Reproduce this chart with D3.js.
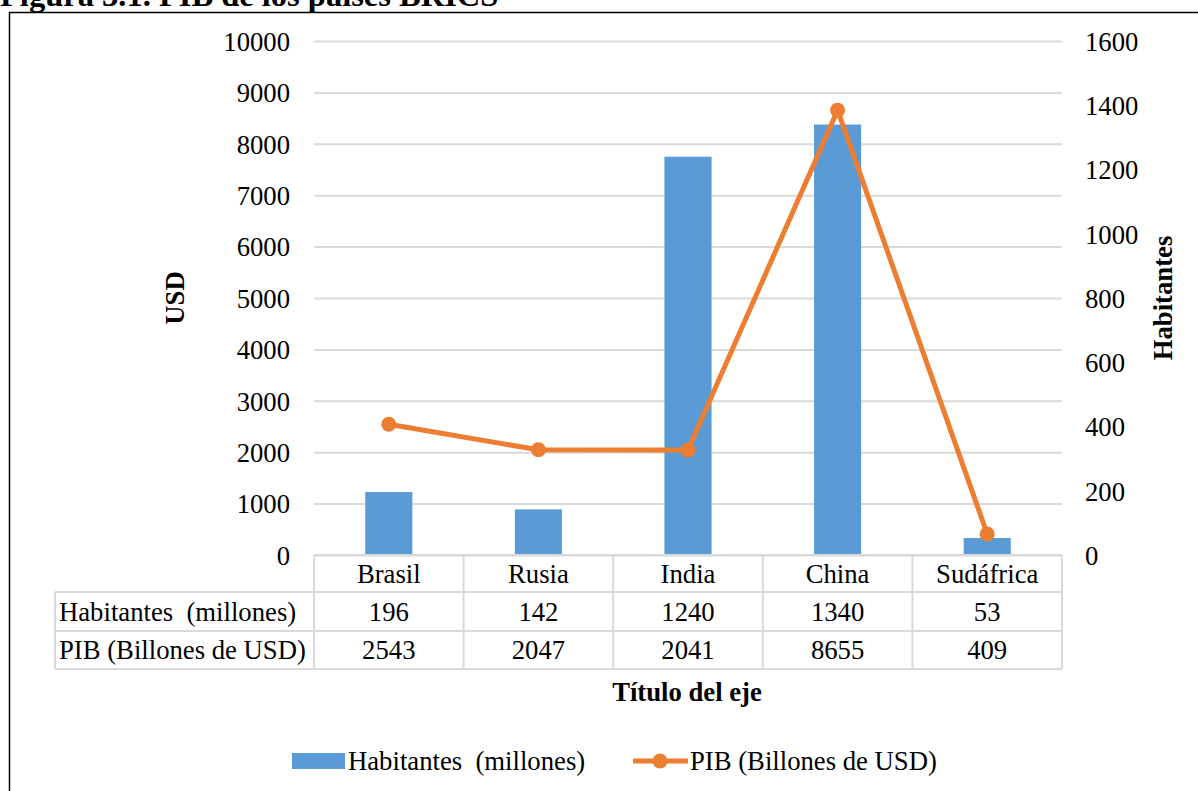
<!DOCTYPE html>
<html><head><meta charset="utf-8">
<script src="https://cdn.jsdelivr.net/npm/d3@7"></script>
<style>
html,body{margin:0;padding:0;background:#fff;overflow:hidden}
text{font-family:"Liberation Serif","Times New Roman",serif;fill:#000}
</style></head>
<body>
<svg id="c" width="1198" height="791"></svg>
<script>
const categories = ["Brasil","Rusia","India","China","Sudáfrica"];
const habitantes = [196,142,1240,1340,53];
const pib = [2543,2047,2041,8655,409];
const leftTicks = [0,1000,2000,3000,4000,5000,6000,7000,8000,9000,10000];
const rightTicks = [0,200,400,600,800,1000,1200,1400,1600];
const seriesNames = ["Habitantes  (millones)","PIB (Billones de USD)"];
const title = "Figura 3.1. PIB de los países BRICS";

const svg = d3.select("#c");
const FS = 26.7;
const L = 314, R = 1062, T = 41, B = 555;
const blue = "#5B9BD5", orange = "#ED7D31", grid = "#D9D9D9";

const x = d3.scaleBand().domain(categories).range([L, R]);
const yL = d3.scaleLinear().domain([0, 10000]).range([B, T]);
const yR = d3.scaleLinear().domain([0, 1600]).range([B, T]);

// frame
svg.append("path").attr("d","M9.5,800 L9.5,12.5 L1210,12.5").attr("fill","none").attr("stroke","#000").attr("stroke-width",1.5);

// title
svg.append("text").attr("x",0).attr("y",6).attr("font-size",32.5).attr("font-weight","bold").text(title);

// gridlines
const gAxis = svg.append("g").attr("transform",`translate(${L},0)`)
  .call(d3.axisRight(yL).tickValues(leftTicks).tickSize(R-L).tickFormat(""));
gAxis.select(".domain").remove();
gAxis.selectAll("line").attr("stroke",grid).attr("stroke-width",2);

// left axis labels
const la = svg.append("g").attr("transform",`translate(290,0)`)
  .call(d3.axisLeft(yL).tickValues(leftTicks).tickSize(0).tickPadding(0).tickFormat(d3.format("d")));
la.select(".domain").remove();
la.selectAll("text").attr("font-size",FS).attr("font-family","Liberation Serif").attr("fill","#000").attr("dy","0.35em");

// right axis labels
const ra = svg.append("g").attr("transform",`translate(1085,0)`)
  .call(d3.axisRight(yR).tickValues(rightTicks).tickSize(0).tickPadding(0).tickFormat(d3.format("d")));
ra.select(".domain").remove();
ra.selectAll("text").attr("font-size",FS).attr("font-family","Liberation Serif").attr("fill","#000").attr("dy","0.35em");

// bars
const bw = x.bandwidth()*0.315;
svg.append("g").selectAll("rect").data(categories).join("rect")
  .attr("x", d => x(d) + x.bandwidth()/2 - bw/2)
  .attr("y", (d,i) => yR(habitantes[i]))
  .attr("width", bw)
  .attr("height", (d,i) => B - yR(habitantes[i]))
  .attr("fill", blue);

// line
const line = d3.line().x((d,i) => x(categories[i]) + x.bandwidth()/2).y(d => yL(d));
svg.append("path").datum(pib).attr("d", line).attr("fill","none").attr("stroke",orange).attr("stroke-width",5).attr("stroke-linejoin","round");
svg.append("g").selectAll("circle").data(pib).join("circle")
  .attr("cx",(d,i) => x(categories[i]) + x.bandwidth()/2)
  .attr("cy", d => yL(d)).attr("r",7.5).attr("fill",orange);

// data table
const rows = [B, 592, 631, 669];
const TL = 55;
const tg = svg.append("g").attr("stroke",grid).attr("stroke-width",2);
tg.append("line").attr("x1",L).attr("x2",R).attr("y1",rows[0]).attr("y2",rows[0]);
for (let r = 1; r < rows.length; r++) tg.append("line").attr("x1",TL).attr("x2",R).attr("y1",rows[r]).attr("y2",rows[r]);
tg.append("line").attr("x1",TL).attr("x2",TL).attr("y1",rows[1]).attr("y2",rows[3]);
const bounds = categories.map(c => x(c)).concat([R]);
bounds.forEach(b => tg.append("line").attr("x1",b).attr("x2",b).attr("y1",rows[0]).attr("y2",rows[3]));

const cy = r => (rows[r] + rows[r+1]) / 2;
svg.append("g").selectAll("text").data(categories).join("text")
  .attr("x", d => x(d) + x.bandwidth()/2).attr("y", cy(0)).attr("dy","0.35em")
  .attr("text-anchor","middle").attr("font-size",FS).text(d => d);
[habitantes, pib].forEach((arr, r) => {
  svg.append("text").attr("x",59).attr("y",cy(r+1)).attr("dy","0.35em").attr("font-size",FS)
    .style("white-space","pre").text(seriesNames[r]);
  svg.append("g").selectAll("text").data(arr).join("text")
    .attr("x",(d,i) => x(categories[i]) + x.bandwidth()/2).attr("y", cy(r+1)).attr("dy","0.35em")
    .attr("text-anchor","middle").attr("font-size",FS).text(d => d);
});

// axis titles
svg.append("text").attr("transform","translate(184,298) rotate(-90)").attr("text-anchor","middle")
  .attr("font-size",FS).attr("font-weight","bold").text("USD");
svg.append("text").attr("transform","translate(1172,298) rotate(-90)").attr("text-anchor","middle")
  .attr("font-size",FS).attr("font-weight","bold").text("Habitantes");
svg.append("text").attr("x",687).attr("y",692).attr("dy","0.35em").attr("text-anchor","middle")
  .attr("font-size",FS).attr("font-weight","bold").text("Título del eje");

// legend
const lg = svg.append("g");
lg.append("rect").attr("x",292).attr("y",753).attr("width",53).attr("height",16).attr("fill",blue);
lg.append("text").attr("x",348).attr("y",761).attr("dy","0.35em").attr("font-size",FS)
  .style("white-space","pre").text(seriesNames[0]);
lg.append("line").attr("x1",633).attr("x2",688).attr("y1",761).attr("y2",761).attr("stroke",orange).attr("stroke-width",5);
lg.append("circle").attr("cx",660).attr("cy",761).attr("r",7.5).attr("fill",orange);
lg.append("text").attr("x",690).attr("y",761).attr("dy","0.35em").attr("font-size",FS).text(seriesNames[1]);
</script>
</body></html>
